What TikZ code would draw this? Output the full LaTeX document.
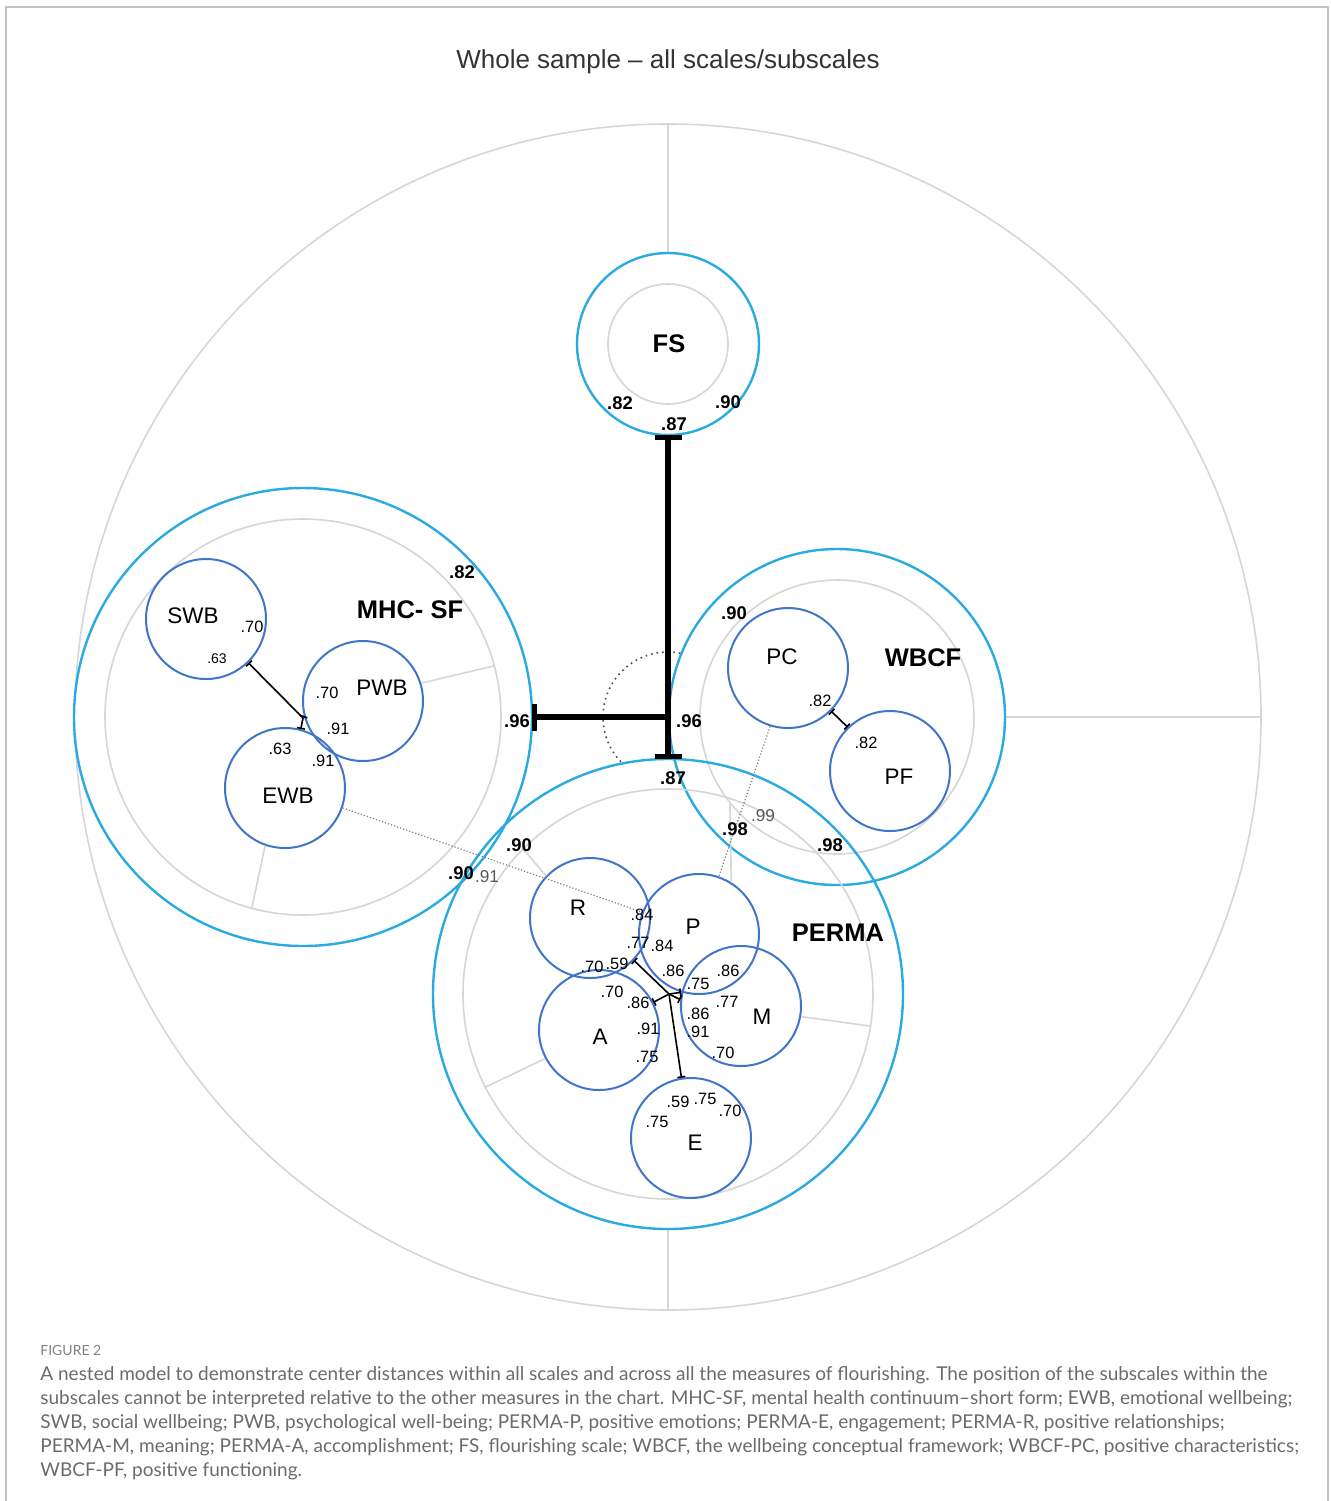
\documentclass[tikz,border=0pt]{standalone}
\usepackage{fontspec}
\setmainfont{Liberation Sans}
\newfontfamily\capfont{Lato}
\usepackage{tikz}
\usetikzlibrary{arrows.meta}
\pgfdeclarelayer{background}
\pgfdeclarelayer{fills}
\pgfsetlayers{background,fills,main}
\definecolor{nestcyan}{rgb}{0.161, 0.671, 0.886}
\definecolor{nestblue}{rgb}{0.251, 0.459, 0.792}
\definecolor{nestgray}{rgb}{0.84, 0.84, 0.84}
\definecolor{nesttitle}{rgb}{0.2, 0.2, 0.2}
\definecolor{nestlink}{rgb}{0.35, 0.35, 0.35}
\definecolor{capgray}{rgb}{0.42, 0.42, 0.42}
\definecolor{framegray}{rgb}{0.76, 0.76, 0.76}
\tikzstyle{outerring} = [circle, draw = nestgray, line width = 0.8pt, inner sep = 0pt]
\tikzstyle{scalering} = [circle, draw = nestcyan, line width = 1.2pt, inner sep = 0pt, outer sep = 0pt]
\tikzstyle{innerring} = [circle, draw = nestgray, line width = 0.8pt, inner sep = 0pt]
\tikzstyle{subring} = [circle, draw = nestblue, line width = 1pt, inner sep = 0pt, minimum size = 60pt]
\tikzstyle{radialline} = [nestgray, line width = 0.8pt]
\tikzstyle{centerbar} = [black, line width = 2.6pt]
\tikzstyle{treeedge} = [black, line width = 0.8pt]
\tikzstyle{crossedge} = [black!50, densely dotted, line width = 0.6pt]
\tikzstyle{scalename} = [inner sep = 0pt, font = \bfseries\fontsize{12.75}{14}\selectfont]
\tikzstyle{subname} = [inner sep = 0pt, font = \fontsize{11.25}{13}\selectfont]
\tikzstyle{boldnum} = [inner sep = 0pt, font = \bfseries\fontsize{9.2}{10}\selectfont]
\tikzstyle{subnum} = [inner sep = 0pt, font = \fontsize{8.2}{9}\selectfont]
\tikzstyle{smallnum} = [inner sep = 0pt, font = \fontsize{7}{8}\selectfont]
\tikzstyle{linknum} = [inner sep = 0pt, text = nestlink, font = \fontsize{8.6}{9}\selectfont]
\tikzstyle{capline} = [inner sep = 0pt, anchor = base west, text = capgray, font = \capfont\fontsize{9.5}{12}\selectfont]

\begin{document}
\begin{tikzpicture}[x = 0.5pt, y = -0.5pt]
\useasboundingbox (0, 0) rectangle (1330, 1501);
\draw[framegray, line width = 1pt] (6, 1501) -- (6, 7) -- (1328, 7) -- (1328, 1501);
\node[inner sep = 0pt, text = nesttitle, font = \fontsize{13}{15}\selectfont] (title) at (668, 62) {Whole sample – all scales/subscales};

% scales
\coordinate (hub) at (668, 717);
\node[scalering, minimum size = 91pt] (fs) at (668, 344) {};
\node[innerring, minimum size = 60pt] (fsgray) at (668, 344) {};
\node[scalering, minimum size = 229pt] (mhc) at (303, 717) {};
\node[innerring, minimum size = 198pt] (mhcgray) at (303, 717) {};
\node[scalering, minimum size = 168pt] (wbcf) at (837, 717) {};
\node[innerring, minimum size = 137pt] (wbcfgray) at (837, 717) {};
\node[scalering, minimum size = 235pt] (perma) at (668, 994) {};
\node[innerring, minimum size = 205pt] (permagray) at (668, 994) {};

% subscales
\node[subring] (swb) at (206, 619) {};
\node[subring] (pwb) at (363, 701) {};
\node[subring] (ewb) at (285, 788) {};
\node[subring] (pc) at (788, 668) {};
\node[subring] (pf) at (890, 771) {};
\node[subring] (r) at (590, 918) {};
\node[subring] (p) at (699, 934) {};
\node[subring] (m) at (741, 1006) {};
\node[subring] (a) at (599, 1030) {};
\node[subring] (e) at (691, 1138) {};

\begin{pgfonlayer}{background}
\node[outerring, minimum size = 593pt] (whole) at (hub) {};
\draw[radialline] (whole.north) -- (fs.north);
\draw[radialline] (wbcf.east) -- (whole.east);
\draw[radialline] (perma.south) -- (whole.south);
\draw[black!70, dotted, line width = 0.8pt] (hub) circle[radius = 32.5pt];
\end{pgfonlayer}
\begin{pgfonlayer}{fills}
\foreach \ring/\rad in {fs/45.5, mhc/114.5, wbcf/84, perma/117.5}
  \fill[white] (\ring.center) circle[radius = \rad pt];
\end{pgfonlayer}

% radial lines inside the scales
\draw[radialline] (pwb.17) -- (mhcgray.15);
\draw[radialline] (ewb.-109) -- (mhcgray.-105);
\draw[radialline] (p.58) -- (wbcfgray.219);
\draw[radialline] (r.136) -- (permagray.135);
\draw[radialline] (a.208) -- (permagray.207);
\draw[radialline] (m.-10) -- (permagray.-9);

% center distances between scales
\draw[centerbar, {Bar[width = 13.5pt]}-{Bar[width = 13.5pt]}] (fs.south) -- (perma.north);
\draw[centerbar, {Bar[width = 13.5pt]}-] (mhc.east) -- (hub);
\fill (hub) circle[radius = 1.6pt];

% center distances within scales
\coordinate (mhcjoint) at (303, 718);
\draw[treeedge, {Bar[width = 4pt]}-] (swb.-46) -- (mhcjoint);
\draw[treeedge, {Bar[width = 4pt]}-] (pwb.-166) -- (mhcjoint);
\draw[treeedge, {Bar[width = 4pt]}-] (ewb.75) -- (mhcjoint);
\draw[treeedge, {Bar[width = 4pt]}-{Bar[width = 4pt]}] (pc.-45) -- (pf.134);
\coordinate (permajoint) at (669, 994);
\draw[treeedge, {Bar[width = 4pt]}-] (r.-44) -- (permajoint);
\draw[treeedge, {Bar[width = 4pt]}-] (p.253) -- (permajoint);
\draw[treeedge, {Bar[width = 4pt]}-] (m.174) -- (permajoint);
\draw[treeedge, {Bar[width = 4pt]}-] (a.27) -- (permajoint);
\draw[treeedge, {Bar[width = 4pt]}-] (e.99) -- (permajoint);
\draw[crossedge] (ewb.-19) -- (p.159);
\draw[crossedge] (pc.253) -- (p.71);

% FS
\node[scalename] (fsname) at (669, 344) {FS};
\node[boldnum] (fs82) at (620, 403) {.82};
\node[boldnum] (fs90) at (728, 402) {.90};
\node[boldnum] (fs87) at (674, 424) {.87};
\node[boldnum] (hub96a) at (517, 721) {.96};
\node[boldnum] (hub96b) at (689, 721) {.96};
\node[boldnum] (hub87) at (673, 778) {.87};

% MHC-SF
\node[scalename] (mhcname) at (410, 610) {MHC- SF};
\node[boldnum] (mhc82) at (462, 572) {.82};
\node[subname] (swbname) at (193, 616) {SWB};
\node[subname] (pwbname) at (382, 688) {PWB};
\node[subname] (ewbname) at (288, 796) {EWB};
\node[subnum] (swb70) at (252, 627) {.70};
\node[smallnum] (swb63) at (217, 659) {.63};
\node[subnum] (pwb70) at (327, 693) {.70};
\node[subnum] (pwb91) at (338, 729) {.91};
\node[subnum] (ewb63) at (280, 749) {.63};
\node[subnum] (ewb91) at (323, 761) {.91};
\node[boldnum] (mhc90) at (461, 873) {.90};
\node[linknum] (mhc91) at (487, 877) {.91};

% WBCF
\node[scalename] (wbcfname) at (923, 658) {WBCF};
\node[boldnum] (wbcf90) at (734, 613) {.90};
\node[subname] (pcname) at (782, 657) {PC};
\node[subname] (pfname) at (899, 777) {PF};
\node[subnum] (pc82) at (820, 701) {.82};
\node[subnum] (pf82) at (866, 743) {.82};
\node[linknum] (wbcf99) at (763, 816) {.99};
\node[boldnum] (wbcf98a) at (735, 829) {.98};
\node[boldnum] (wbcf98b) at (830, 845) {.98};

% PERMA
\node[scalename] (permaname) at (838, 933) {PERMA};
\node[boldnum] (perma90) at (519, 845) {.90};
\node[subname] (rname) at (578, 908) {R};
\node[subname] (pname) at (693, 927) {P};
\node[subname] (mname) at (762, 1017) {M};
\node[subname] (aname) at (600, 1037) {A};
\node[subname] (ename) at (695, 1143) {E};
\node[subnum] (r84) at (642, 915) {.84};
\node[subnum] (r77) at (638, 943) {.77};
\node[subnum] (p84) at (662, 946) {.84};
\node[subnum] (r70) at (592, 967) {.70};
\node[subnum] (r59) at (617, 964) {.59};
\node[subnum] (p86a) at (673, 971) {.86};
\node[subnum] (m86a) at (728, 971) {.86};
\node[subnum] (p75) at (698, 984) {.75};
\node[subnum] (a70) at (612, 992) {.70};
\node[subnum] (a86) at (638, 1003) {.86};
\node[subnum] (m77) at (727, 1002) {.77};
\node[subnum] (m86b) at (698, 1014) {.86};
\node[subnum] (a91) at (648, 1029) {.91};
\node[subnum] (m91) at (698, 1032) {.91};
\node[subnum] (a75) at (647, 1057) {.75};
\node[subnum] (m70) at (723, 1053) {.70};
\node[subnum] (e59) at (678, 1102) {.59};
\node[subnum] (e75a) at (705, 1099) {.75};
\node[subnum] (e70) at (730, 1111) {.70};
\node[subnum] (e75b) at (657, 1122) {.75};

% caption
\node[capline, text = capgray!85, font = \capfont\fontsize{7}{8}\selectfont] (figno) at (40, 1355) {FIGURE 2};
\node[capline] (cap1) at (40, 1380) {A nested model to demonstrate center distances within all scales and across all the measures of flourishing. The position of the subscales within the};
\node[capline] (cap2) at (40, 1404) {subscales cannot be interpreted relative to the other measures in the chart. MHC-SF, mental health continuum–short form; EWB, emotional wellbeing;};
\node[capline] (cap3) at (40, 1428) {SWB, social wellbeing; PWB, psychological well-being; PERMA-P, positive emotions; PERMA-E, engagement; PERMA-R, positive relationships;};
\node[capline] (cap4) at (40, 1452) {PERMA-M, meaning; PERMA-A, accomplishment; FS, flourishing scale; WBCF, the wellbeing conceptual framework; WBCF-PC, positive characteristics;};
\node[capline] (cap5) at (40, 1476) {WBCF-PF, positive functioning.};
\end{tikzpicture}
\end{document}
